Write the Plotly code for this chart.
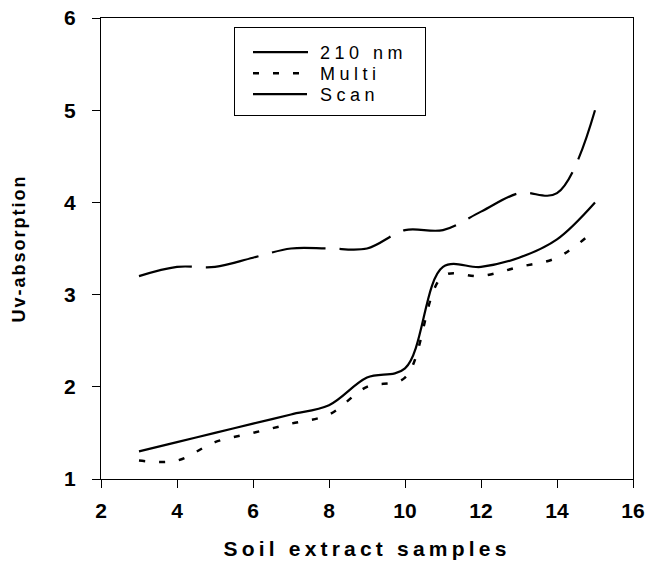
import plotly.graph_objects as go

samples = [3, 4, 5, 6, 7, 8, 9, 10, 11, 12, 13, 14, 15]
nm210 = [1.3, 1.4, 1.5, 1.6, 1.7, 1.8, 2.1, 2.2, 3.3, 3.3, 3.4, 3.6, 4.0]
multi = [1.2, 1.2, 1.4, 1.5, 1.6, 1.7, 2.0, 2.1, 3.2, 3.2, 3.3, 3.4, 3.7]
scan = [3.2, 3.3, 3.3, 3.4, 3.5, 3.5, 3.5, 3.7, 3.7, 3.9, 4.1, 4.1, 5.0]
x_ticks = [2, 4, 6, 8, 10, 12, 14, 16]
y_ticks = [1, 2, 3, 4, 5, 6]

FONT = "Liberation Sans, Arial, sans-serif"

fig = go.Figure()
fig.add_trace(go.Scatter(x=samples, y=nm210, mode="lines", name="210 nm",
                         line=dict(color="black", width=2.2, shape="spline", smoothing=1)))
fig.add_trace(go.Scatter(x=samples, y=multi, mode="lines", name="Multi",
                         line=dict(color="black", width=2.5, shape="spline", smoothing=1,
                                   dash="6px,14px")))
fig.add_trace(go.Scatter(x=samples, y=scan, mode="lines", name="Scan",
                         line=dict(color="black", width=2.2, shape="spline", smoothing=1,
                                   dash="54px,14px")))

axis_common = dict(
    showgrid=False, zeroline=False, automargin=False,
    showline=True, linecolor="black", linewidth=1, mirror=True,
    ticks="outside", ticklen=8, tickwidth=1, tickcolor="black",
    tickfont=dict(family=FONT, size=21, color="black", weight="bold"),
)

fig.update_layout(
    width=652, height=563,
    margin=dict(l=101, r=19, t=18, b=84, autoexpand=False),
    paper_bgcolor="white", plot_bgcolor="white",
    font=dict(family=FONT, color="black"),
    xaxis=dict(range=[2, 16], tickvals=x_ticks, ticklabelstandoff=5,
               title=dict(text="Soil extract samples", standoff=20,
                          font=dict(family=FONT, size=21, color="black", weight="bold")),
               **axis_common),
    yaxis=dict(range=[1, 6], tickvals=y_ticks, ticklabelstandoff=12,
               title=dict(text="Uv-absorption", standoff=33,
                          font=dict(family=FONT, size=18, color="black", weight="bold")),
               **axis_common),
    legend=dict(x=0.25, y=0.98, xanchor="left", yanchor="top",
                bordercolor="black", borderwidth=1, bgcolor="white",
                font=dict(family=FONT, size=18, color="black"),
                itemwidth=75, tracegroupgap=0),
    showlegend=True,
)

post_js = """
document.body.style.margin = '0';
document.body.style.overflow = 'hidden';
var gd = document.getElementById('{plot_id}');
function fixStyle(){
  var t = gd.querySelector('.xtitle'); if (t) { t.style.letterSpacing = '4.2px'; }
  var y = gd.querySelector('.ytitle'); if (y) { y.style.letterSpacing = '2px'; }
  var sb = gd.querySelector('.legend .scrollbox');
  if (sb) { sb.removeAttribute('clip-path'); }
  document.querySelectorAll('clipPath[id^="legend"] rect').forEach(function(r){
    r.setAttribute('width', '191'); r.setAttribute('height', '88');
  });
  gd.querySelectorAll('.legend .legendtext').forEach(function(el){
    el.style.letterSpacing = '4.5px';
  });
  gd.querySelectorAll('.legend .legendlines path').forEach(function(p){
    p.setAttribute('d', 'M18,0h55');
  });
  gd.querySelectorAll('.legend .traces').forEach(function(g, i){
    var tr = g.getAttribute('transform') || '';
    var m = /translate\\(\\s*([-\\d.]+)[ ,]+([-\\d.]+)\\s*\\)/.exec(tr);
    var xx = m ? m[1] : '1';
    g.setAttribute('transform', 'translate(' + xx + ',' + (25 + 21 * i) + ')');
  });
  var bg = gd.querySelector('.legend rect.bg');
  if (bg) { bg.setAttribute('width', '191'); bg.setAttribute('height', '88'); }
}
fixStyle();
gd.on('plotly_afterplot', fixStyle);
"""

fig.write_html("out.html", post_script=post_js, config={"displayModeBar": False})
